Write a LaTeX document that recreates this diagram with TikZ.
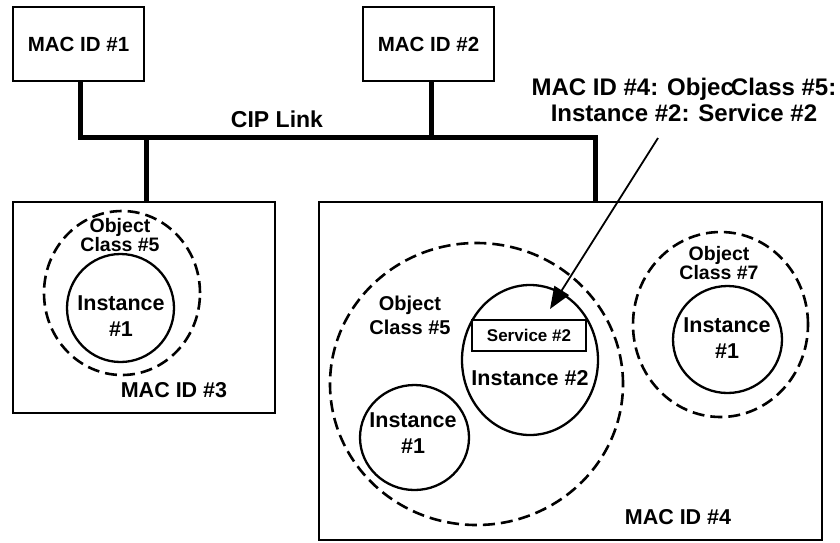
\documentclass[tikz,border=0pt]{standalone}
\usepackage{fontspec}
\setmainfont{Liberation Sans}
\usetikzlibrary{shapes.geometric,arrows.meta}
\tikzset{
  x=1pt, y=-1pt,
  macbox/.style={draw, line width=2.6pt, rectangle, inner sep=0pt, font=\fontsize{20.5}{22}\bfseries},
  hostbox/.style={draw, line width=2.2pt, rectangle, inner sep=0pt},
  classring/.style={draw, ellipse, line width=2.6pt, dash pattern=on 12pt off 6pt, inner sep=0pt},
  instring/.style={draw, ellipse, line width=2.3pt, inner sep=0pt},
  lbl/.style={inner sep=0pt, align=center, font=\fontsize{21.5}{26}\bfseries},
  clsl/.style={inner sep=0pt, align=center, font=\fontsize{19.5}{16}\bfseries},
  bus/.style={line width=5pt, line join=miter, line cap=rect},
}
\begin{document}
\begin{tikzpicture}
\useasboundingbox (0,0) rectangle (840,542);

% stations on the link
\node[macbox, minimum width=131, minimum height=74] (mac1) at (78.5,44) {MAC ID \#1};
\node[macbox, minimum width=131, minimum height=74] (mac2) at (428.5,44) {MAC ID \#2};
\node[hostbox, minimum width=262, minimum height=211] (mac3) at (144,307.5) {};
\node[hostbox, minimum width=503, minimum height=338] (mac4) at (570.5,371) {};

% the CIP link
\coordinate (bus) at (0,137);
\coordinate (tap1) at (80,0);
\coordinate (tap2) at (431,0);
\coordinate (tap3) at (146,0);
\coordinate (tap4) at (595,0);
\draw[bus] (mac1.south -| tap1) -- (tap1 |- bus) -- (tap4 |- bus) -- (tap4 |- mac4.north);
\draw[bus] (mac2.south -| tap2) -- (tap2 |- bus);
\draw[bus] (tap3 |- bus) -- (tap3 |- mac3.north);
\node[lbl, font=\fontsize{23}{26}\bfseries] (cip) at (277,119) {CIP Link};

% MAC ID #3
\node[classring, minimum width=156, minimum height=164] (m3c5) at (122,293) {};
\node[instring, minimum width=107, minimum height=108] (m3i1) at (120.5,308) {};
\node[clsl] (m3c5l) at (120,235) {Object\\Class \#5};
\node[lbl] (m3i1l) at (121,316) {Instance\\\#1};
\node[lbl] (mac3l) at (174,390) {MAC ID \#3};

% MAC ID #4
\node[classring, minimum width=293, minimum height=282] (m4c5) at (476.5,384) {};
\node[instring, minimum width=136, minimum height=150] (m4i2) at (530,360) {};
\node[instring, minimum width=109, minimum height=105] (m4i1) at (414.5,437.5) {};
\node[classring, minimum width=175, minimum height=185] (m4c7) at (720.5,324.5) {};
\node[instring, minimum width=109, minimum height=107] (m4c7i1) at (727.5,339.5) {};
\node[draw, line width=2pt, minimum width=114, minimum height=31, inner sep=0pt,
      font=\fontsize{17}{18}\bfseries] (svc) at (529,335.5) {Service \#2};
\node[lbl, font=\fontsize{20}{24}\bfseries] (m4c5l) at (410,315) {Object\\Class \#5};
\node[lbl] (m4i2l) at (530,378) {Instance \#2};
\node[lbl] (m4i1l) at (413,433.5) {Instance\\\#1};
\node[clsl] (m4c7l) at (719,263) {Object\\Class \#7};
\node[lbl] (m4c7i1l) at (727,338) {Instance\\\#1};
\node[lbl] (mac4l) at (678,517) {MAC ID \#4};

% addressed service
\node[lbl, font=\fontsize{24}{26}\bfseries] (addr) at (684,100) {MAC ID \#4: Objec\kern-3pt Class \#5:\\Instance \#2: Service \#2};
\coordinate (tail) at (658,138);
\coordinate (tip) at (550,309);
\draw[line width=1.8pt, -{Triangle[length=22pt, width=17pt]}] (tail) -- (tip);
\end{tikzpicture}
\end{document}
